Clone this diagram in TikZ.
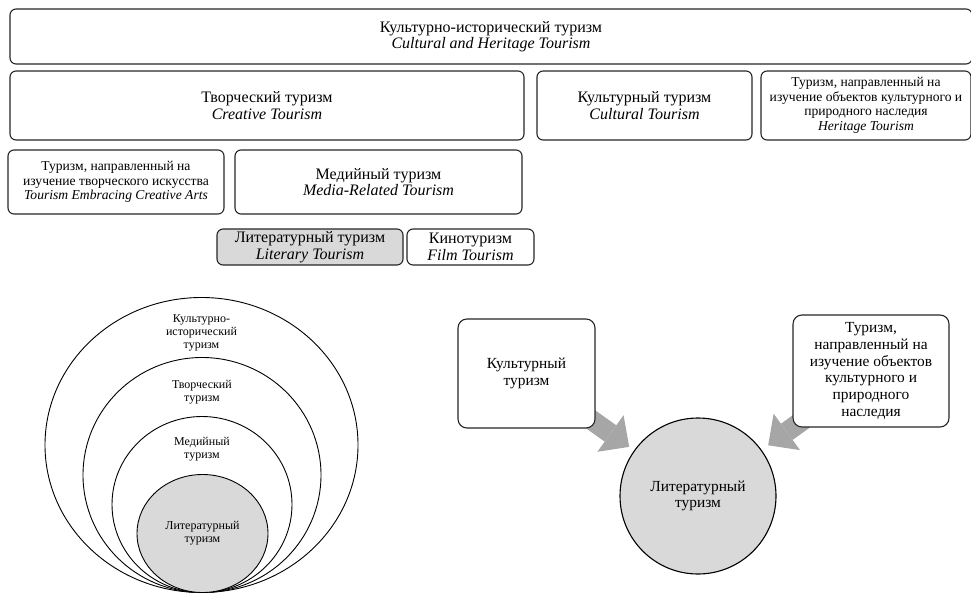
\documentclass[tikz,border=0pt]{standalone}
\usepackage{fontspec}
\setmainfont{Liberation Serif}
\usetikzlibrary{shapes.geometric, arrows.meta, positioning, backgrounds}
\newcommand{\fsz}[2]{\fontsize{#1}{#2}\selectfont}
\definecolor{litgray}{HTML}{D9D9D9}
\definecolor{arrgray}{HTML}{A6A6A6}
\tikzset{
    tbox/.style={draw=black!85, line width=1.1pt, rounded corners=6pt, fill=white, align=center, inner sep=2pt, font=\fsz{16}{16.5}},
    sbox/.style={tbox, font=\fsz{13.6}{14.5}},
    ring/.style={draw, ellipse, line width=0.9pt, fill=white, inner sep=0pt},
    clabel/.style={align=center, inner sep=0pt, font=\fsz{12}{13.3}},
    rbox/.style={tbox, rounded corners=9pt, font=\fsz{15.4}{16.7}},
    bigarrow/.style={arrgray, line width=20pt, -{Triangle[length=23pt, width=45pt, line width=0pt]}}
}

\begin{document}
\begin{tikzpicture}[x=1pt, y=-1pt]
    \useasboundingbox (0,0) rectangle (971,594);
    \clip (0,0) rectangle (971,594);

    % Hierarchy of boxes
    \node[tbox, minimum width=962, minimum height=55] (chist) at (491,36.5) {Культурно-исторический туризм\\\textit{Cultural and Heritage Tourism}};
    \node[tbox, minimum width=514, minimum height=69] (tvor) at (267,105.5) {Творческий туризм\\\textit{Creative Tourism}};
    \node[tbox, minimum width=215, minimum height=69] (kult) at (644.5,105.5) {Культурный туризм\\\textit{Cultural Tourism}};
    \node[sbox, minimum width=210, minimum height=69] (nasl) at (866,105.5) {Туризм, направленный на\\изучение объектов культурного и\\природного наследия\\\textit{Heritage Tourism}};
    \node[sbox, minimum width=216, minimum height=64] (iskus) at (116,182) {Туризм, направленный на\\изучение творческого искусства\\\textit{Tourism Embracing Creative Arts}};
    \node[tbox, minimum width=287, minimum height=64] (media) at (378.5,182) {Медийный туризм\\\textit{Media-Related Tourism}};
    \node[tbox, fill=litgray, minimum width=186, minimum height=36] (lit) at (310,247) {Литературный туризм\\\textit{Literary Tourism}};
    \node[tbox, minimum width=127, minimum height=36] (kino) at (470.5,247) {Кинотуризм\\\textit{Film Tourism}};

    % Nested rings
    \node[ring, minimum width=313, minimum height=295] (r1) at (201.5,445) {};
    \node[ring, minimum width=238, minimum height=235] (r2) at (202,475) {};
    \node[ring, minimum width=180, minimum height=176] (r3) at (202,504.5) {};
    \node[ring, fill=litgray, minimum width=131, minimum height=118, font=\fsz{12}{13.3}, align=center] (r4) at (202.5,533.5) {Литературный\\туризм};
    \node[clabel, below=17pt of r1.north] (r1t) {Культурно-\\исторический\\туризм};
    \node[clabel, below=23pt of r2.north] (r2t) {Творческий\\туризм};
    \node[clabel, below=21pt of r3.north] (r3t) {Медийный\\туризм};

    % Sources of literary tourism
    \node[rbox, minimum width=137, minimum height=109] (kult2) at (526.5,373.5) {Культурный\\туризм};
    \node[rbox, minimum width=156, minimum height=112] (nasl2) at (871,371) {Туризм,\\направленный на\\изучение объектов\\культурного и\\природного\\наследия};
    \node[draw, circle, line width=1.1pt, fill=litgray, minimum size=156, align=center, font=\fsz{15.4}{16.7}] (lit2) at (698,496) {Литературный\\туризм};

    \begin{scope}[on background layer]
        \draw[bigarrow, shorten >=6pt] (kult2.center) -- (lit2);
        \draw[bigarrow, shorten >=8pt] (nasl2.center) -- (lit2);
    \end{scope}
\end{tikzpicture}
\end{document}
